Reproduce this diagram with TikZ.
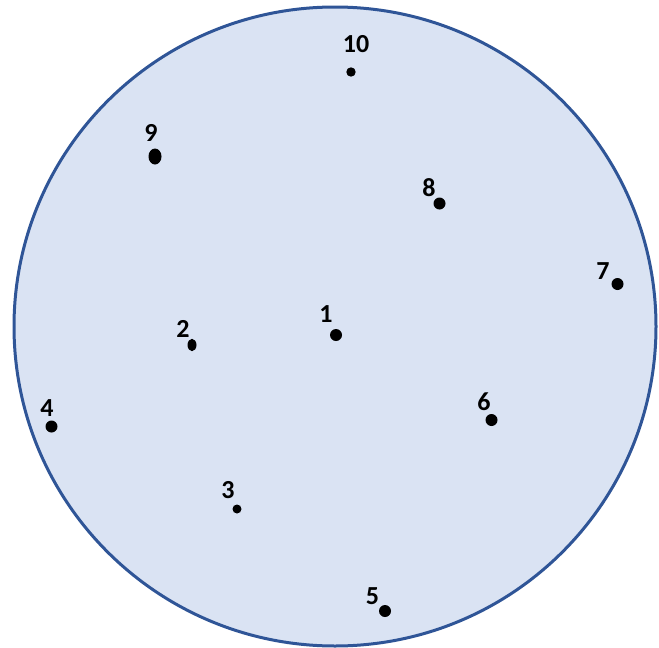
\documentclass[tikz,border=0pt]{standalone}
\usepackage{fontspec}
\setmainfont{Carlito}
\definecolor{rim}{HTML}{2F5597}
\definecolor{fillc}{HTML}{DAE3F3}
\begin{document}
\begin{tikzpicture}[x=1pt,y=-1pt,
  lab/.style={inner sep=0pt,font=\fontsize{26}{28}\selectfont\bfseries},
  dot/.style={fill=black}]
\useasboundingbox (0,0) rectangle (659,648);
\draw[rim,fill=fillc,line width=3pt] (335,326.5) ellipse [x radius=321,y radius=319.5];
\fill[dot] (336,335) circle [radius=6];
\fill[dot] (192,345) ellipse [x radius=4.5,y radius=6.2];
\fill[dot] (237,509) circle [radius=4.5];
\fill[dot] (51.5,426.5) circle [radius=6];
\fill[dot] (385,611) circle [radius=6];
\fill[dot] (491.5,420) circle [radius=6];
\fill[dot] (617.5,284) circle [radius=6];
\fill[dot] (439.5,203.5) circle [radius=6];
\fill[dot] (155,156.5) ellipse [x radius=6.5,y radius=8];
\fill[dot] (351,72) circle [radius=4.7];
\node[lab] (l1) at (326,314) {1};
\node[lab] (l2) at (183,329) {2};
\node[lab] (l3) at (228,490) {3};
\node[lab] (l4) at (47,408) {4};
\node[lab] (l5) at (372.5,596) {5};
\node[lab] (l6) at (484,402) {6};
\node[lab] (l7) at (603,271) {7};
\node[lab] (l8) at (429,188) {8};
\node[lab] (l9) at (151,133) {9};
\node[lab] (l10) at (356,44) {10};
\end{tikzpicture}
\end{document}
